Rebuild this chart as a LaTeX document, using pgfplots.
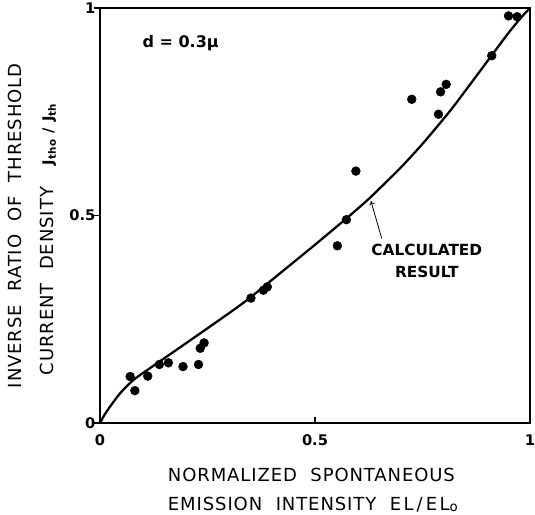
\documentclass[border=0pt]{standalone}
\usepackage{fontspec}
\setmainfont{DejaVu Sans}
\usepackage{pgfplots}
\pgfplotsset{compat=1.18}
\usetikzlibrary{arrows.meta}
\pgfplotstableread{
x y
0.070 0.112
0.081 0.078
0.111 0.113
0.138 0.141
0.159 0.145
0.193 0.136
0.229 0.141
0.233 0.180
0.242 0.193
0.351 0.301
0.380 0.320
0.389 0.328
0.552 0.427
0.573 0.490
0.595 0.607
0.725 0.780
0.787 0.744
0.792 0.798
0.805 0.816
0.911 0.885
0.950 0.981
0.970 0.979
}\measured
\pgfplotstableread{
x y
0 0
0.010 0.019
0.023 0.039
0.047 0.072
0.078 0.104
0.116 0.132
0.155 0.160
0.233 0.216
0.310 0.272
0.349 0.302
0.426 0.367
0.504 0.433
0.581 0.500
0.628 0.543
0.698 0.614
0.752 0.675
0.814 0.752
0.860 0.815
0.911 0.886
0.950 0.940
0.980 0.978
1.000 1.000
}\calc
\newcommand\lbl{\fontsize{13.5}{15}\selectfont\addfontfeatures{LetterSpace=5}}
\newcommand\gap{\hspace{0.75em}}
\begin{document}
\begin{tikzpicture}
\begin{axis}[
  scale only axis, width=322.5pt, height=311.25pt,
  xmin=0, xmax=1, ymin=0, ymax=1,
  xtick={0,0.5,1}, ytick={0,0.5,1},
  xticklabels={0,0.5,1}, yticklabels={0,0.5,1},
  axis line style={line width=1.4pt},
  tick align=inside, xtick pos=bottom, ytick pos=left,
  major tick length=4.5pt,
  tick style={line width=1pt, black},
  y tick style={xshift=-4.5pt},
  ticklabel style={font=\fontsize{11}{13}\selectfont\bfseries},
  xticklabel style={yshift=-5pt},
  /pgf/number format/assume math mode=true,
  clip=false,
]
\addplot[line width=1.7pt, smooth, tension=0.4] table[x=x,y=y] {\calc};
\addplot[only marks, mark=*, mark size=3.3pt, black] table[x=x,y=y] {\measured};
\node[anchor=west, font=\fontsize{12}{14}\selectfont\bfseries] at (axis cs:0.088,0.916) {d = 0.3μ};
\node[align=center, font=\fontsize{11.5}{16.5}\selectfont\bfseries] at (axis cs:0.76,0.39) {CALCULATED\\RESULT};
\draw[-{To[length=3pt,width=4pt]}, line width=0.6pt] (axis cs:0.655,0.445) -- (axis cs:0.630,0.535);
\node[rotate=90, font=\lbl] at (rel axis cs:-0.198,0.475) {INVERSE\gap RATIO\gap OF\gap THRESHOLD};
\node[rotate=90, font=\lbl] at (rel axis cs:-0.121,0.443) {CURRENT\gap DENSITY\hspace{1.2em}{\bfseries\fontsize{11}{13}\selectfont J\textsubscript{tho} / J\textsubscript{th}}};
\node[anchor=west, font=\lbl] at (rel axis cs:0.147,-0.125) {NORMALIZED\gap SPONTANEOUS};
\node[anchor=west, font=\lbl] at (rel axis cs:0.147,-0.196) {EMISSION\gap INTENSITY\gap {\addfontfeatures{LetterSpace=14}EL\,/\,EL\raisebox{-0.15ex}{\fontsize{10}{12}\selectfont o}}};
\coordinate (bl) at (rel axis cs:-0.2326,-0.2193);
\coordinate (tr) at (rel axis cs:1.0116,1.0193);
\end{axis}
\pgfresetboundingbox
\useasboundingbox (bl) rectangle (tr);
\end{tikzpicture}
\end{document}
